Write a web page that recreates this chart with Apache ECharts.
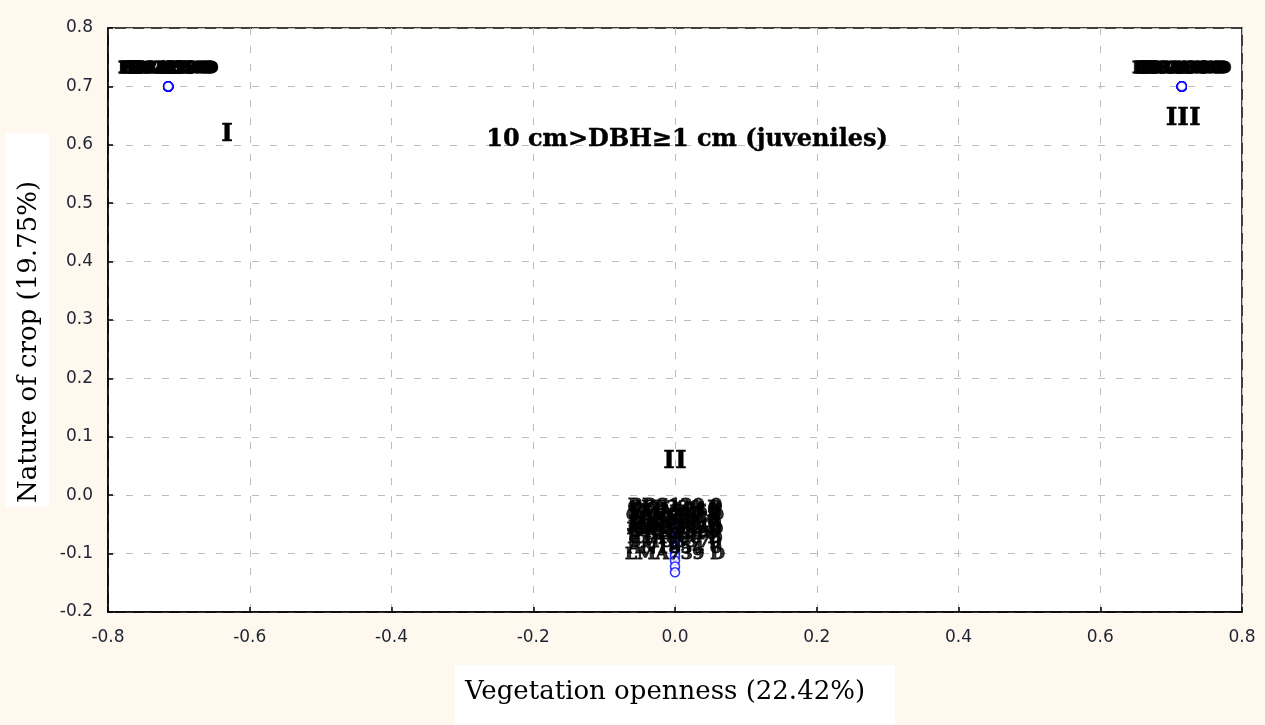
<!DOCTYPE html>
<html><head><meta charset="utf-8">
<script src="https://cdn.jsdelivr.net/npm/echarts@6/dist/echarts.min.js"></script>
<style>html,body{margin:0;padding:0;background:#fff8ee}#c{width:1265px;height:725px}</style>
</head><body><div id="c"></div>
<script>
// ---- data ----
const xTitle = 'Vegetation openness (22.42%)';
const yTitle = 'Nature of crop (19.75%)';
const chartLabel = '10 cm>DBH≥1 cm (juveniles)';

// group I (upper left)
const group1Names = ['HCAHS0', 'PCAHS0 D', 'RC4HS0', 'HCAOS0', 'PC4HS0', 'HLCAHS0',
                     'HNCAHS0', 'PRCAH50', 'H4CAS0 D', 'HCAH5 0'];
const group1X = [-0.715, -0.715, -0.715, -0.715, -0.715, -0.715, -0.715, -0.715, -0.715, -0.715];
const group1Y = [0.70, 0.70, 0.70, 0.70, 0.70, 0.70, 0.70, 0.70, 0.70, 0.70];

// group III (upper right)
const group3Names = ['HCAOS0', 'PCA0S0 D', 'RCAOS0', 'HC4OS0', 'PCAHS0', 'HLCAOS0',
                     'HNCAOS0', 'PRCA050', 'H4CA0S D', 'HCAO5 0'];
const group3X = [0.715, 0.715, 0.715, 0.715, 0.715, 0.715, 0.715, 0.715, 0.715, 0.715];
const group3Y = [0.70, 0.70, 0.70, 0.70, 0.70, 0.70, 0.70, 0.70, 0.70, 0.70];

// group II (near origin)
const group2Names = ['BRS120 0', 'CFE330 D', 'DGL4710', 'EHA2050', 'FMI618 0', 'GAR992 D',
                     'HLO4030', 'IPE117 0', 'JCO560 D', 'KDA2840', 'MBE3310', 'NPA702 D',
                     'ORH4590', 'PSE2210', 'RTA806 D', 'SMO3370', 'AN1854 0', 'LMA739 D'];
const group2X = [0, 0, 0, 0, 0, 0, 0, 0, 0, 0, 0, 0, 0, 0, 0, 0, 0, 0];
const group2Y = [-0.048, -0.052, -0.055, -0.058, -0.062, -0.066, -0.070, -0.074, -0.078,
                 -0.082, -0.086, -0.090, -0.094, -0.098, -0.104, -0.112, -0.122, -0.132];

// annotations
const annoText = ['I', 'II', 'III', chartLabel];
const annoX = [-0.632, 0.0, 0.717, 0.017];
const annoY = [0.618, 0.058, 0.645, 0.608];

const xMin = -0.8, xMax = 0.8, xStep = 0.2;
const yMin = -0.2, yMax = 0.8, yStep = 0.1;

// ---- build ----
function pts(names, xs, ys) { return names.map((n, i) => ({ name: n, value: [xs[i], ys[i]] })); }

const pointStyle = {
  type: 'scatter',
  symbol: 'circle',
  symbolSize: 9,
  itemStyle: { color: '#ffffff', borderColor: '#0000ff', borderWidth: 1.6 },
  label: {
    show: true, position: 'top', distance: 4, formatter: '{b}',
    color: '#000000', fontFamily: 'DejaVu Serif', fontWeight: 'bold', fontSize: 17,
    textBorderColor: '#000000', textBorderWidth: 1
  },
  labelLayout: { hideOverlap: false },
  emphasis: { disabled: true },
  z: 3
};

const annoData = annoText.map((t, i) => ({
  name: t, value: [annoX[i], annoY[i]],
  label: { fontSize: i === 3 ? 24 : 25 }
}));

const axisCommon = {
  type: 'value',
  axisLine: { show: true, onZero: false, lineStyle: { color: '#000', width: 1.5 } },
  axisTick: { show: true, inside: true, length: 5, lineStyle: { color: '#000', width: 1.5 } },
  splitLine: { show: true, lineStyle: { color: '#bdbdbd', type: [7, 11], width: 1 } },
  axisLabel: {
    color: '#1e2233', fontFamily: 'DejaVu Sans', fontSize: 17,
    formatter: v => (Math.abs(v) < 1e-9 ? 0 : v).toFixed(1)
  }
};

const chart = echarts.init(document.getElementById('c'), null, { renderer: 'canvas' });
chart.setOption({
  backgroundColor: '#fff8ee',
  animation: false,
  grid: {
    left: 108, right: 23, top: 28, bottom: 113, containLabel: false, outerBoundsMode: 'none',
    show: true, backgroundColor: '#ffffff', borderColor: '#000', borderWidth: 1.5
  },
  xAxis: Object.assign({}, axisCommon, {
    min: xMin, max: xMax, interval: xStep,
    name: xTitle, nameLocation: 'middle', nameGap: 53,
    axisLabel: Object.assign({}, axisCommon.axisLabel, { margin: 17 }),
    nameTextStyle: {
      color: '#000', fontFamily: 'DejaVu Serif', fontSize: 26, backgroundColor: '#ffffff',
      padding: [14, 30, 30, 10]
    }
  }),
  yAxis: Object.assign({}, axisCommon, {
    min: yMin, max: yMax, interval: yStep,
    name: yTitle, nameLocation: 'middle', nameGap: 53, nameRotate: 90,
    axisLabel: Object.assign({}, axisCommon.axisLabel, { margin: 15 }),
    nameTextStyle: {
      color: '#000', fontFamily: 'DejaVu Serif', fontSize: 26, backgroundColor: '#ffffff',
      padding: [10, 48, 7, 4]
    }
  }),
  series: [
    Object.assign({}, pointStyle, { name: 'I', data: pts(group1Names, group1X, group1Y) }),
    Object.assign({}, pointStyle, { name: 'III', data: pts(group3Names, group3X, group3Y) }),
    Object.assign({}, pointStyle, { name: 'II', data: pts(group2Names, group2X, group2Y) }),
    {
      type: 'scatter', name: 'annotations', symbolSize: 1, data: annoData, z: 4,
      itemStyle: { color: 'rgba(0,0,0,0)' },
      label: {
        show: true, position: 'inside', formatter: '{b}', color: '#000000', opacity: 1,
        fontFamily: 'DejaVu Serif', fontWeight: 'bold',
        textBorderColor: '#000000', textBorderWidth: 0.4
      },
      emphasis: { disabled: true }, silent: true
    }
  ]
});
</script>
</body></html>
